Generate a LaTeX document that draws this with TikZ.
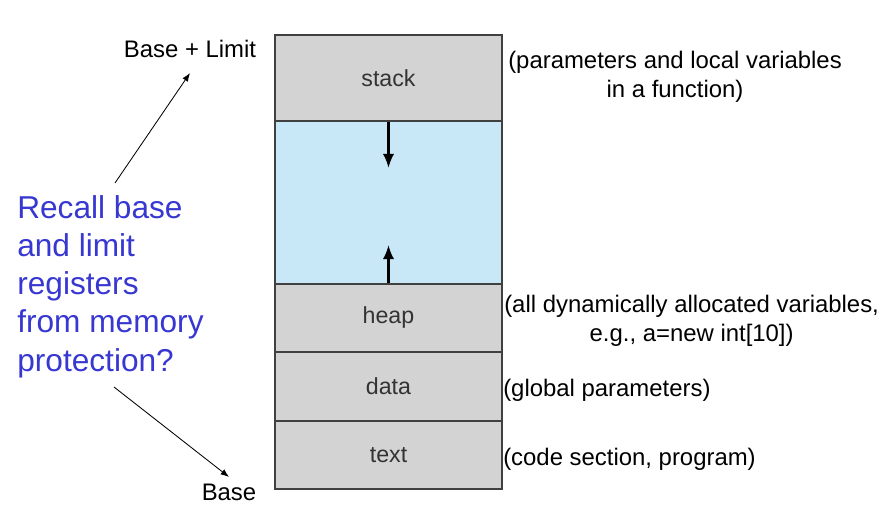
\documentclass[tikz,border=0pt]{standalone}
\usepackage{fontspec}
\setmainfont{Liberation Sans}
\usetikzlibrary{arrows.meta}
\definecolor{segfill}{RGB}{211,211,211}
\definecolor{freefill}{RGB}{200,232,248}
\definecolor{recallblue}{RGB}{55,55,210}
\tikzset{
  seg/.style={draw=black!75, line width=0.8pt, fill=segfill, minimum width=5.675cm,
              inner sep=0pt, text=black!80, font=\fontsize{16.5}{19}\selectfont},
  note/.style={anchor=west, inner sep=0pt, align=center, font=\fontsize{17}{20.5}\selectfont},
  growarrow/.style={line width=1.7pt, -{Latex[length=10pt,width=8pt]}},
  thinarrow/.style={line width=0.6pt, -{Latex[length=6pt,width=4.5pt]}}
}
\begin{document}
\begin{tikzpicture}[x=0.025cm, y=-0.025cm]
  \useasboundingbox (0,0) rectangle (884,505);
  % memory layout of a process
  \node[seg, minimum height=2.15cm] (stack) at (388.5,78) {stack};
  \node[seg, fill=freefill, minimum height=4.075cm] (free) at (388.5,202.5) {};
  \node[seg, minimum height=1.7cm] (heap) at (388.5,318) {heap};
  \node[seg, minimum height=1.725cm] (data) at (388.5,386.5) {data};
  \node[seg, minimum height=1.7cm] (text) at (388.5,455) {text};
  \coordinate (stackend) at (388.5,168);
  \coordinate (heapend) at (388.5,245);
  \draw[growarrow] (stack.south) -- (stackend);
  \draw[growarrow] (heap.north) -- (heapend);
  % notes on the right
  \node[note] (stacknote) at (508,76.5) {(parameters and local variables\\in a function)};
  \node[note] (heapnote) at (504,321) {(all dynamically allocated variables,\\e.g., a=new int[10])};
  \node[note] (datanote) at (503,390) {(global parameters)};
  \node[note] (textnote) at (503,459) {(code section, program)};
  % base and limit
  \node[inner sep=0pt, font=\fontsize{17}{20}\selectfont] (limit) at (190,49) {Base + Limit};
  \node[inner sep=0pt, font=\fontsize{17}{20}\selectfont] (base) at (229,492) {Base};
  \node[anchor=north west, inner sep=0pt, align=left, text=recallblue,
        font=\fontsize{22.5}{27.2}\selectfont] (recall) at (17,195)
        {Recall base\\and limit\\registers\\from memory\\protection?};
  \coordinate (limittail) at (115,183);
  \coordinate (limittip) at (190,73);
  \coordinate (basetail) at (114,387);
  \coordinate (basetip) at (229,477);
  \draw[thinarrow] (limittail) -- (limittip);
  \draw[thinarrow] (basetail) -- (basetip);
\end{tikzpicture}
\end{document}
